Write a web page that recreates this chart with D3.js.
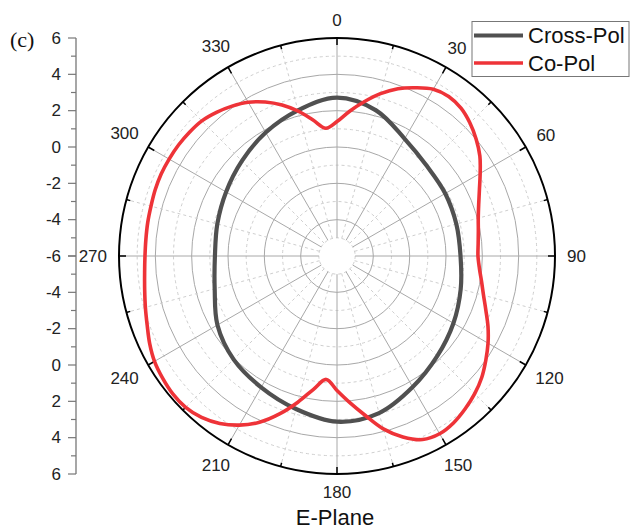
<!DOCTYPE html>
<html>
<head>
<meta charset="utf-8">
<script src="https://cdn.jsdelivr.net/npm/d3@7"></script>
<style>
  html, body { margin: 0; padding: 0; background: #fff; }
  svg { display: block; }
</style>
</head>
<body>
<svg id="chart" width="631" height="531"></svg>
<script>
// Sampled angles (degrees, clockwise from top) and gains for both polarisations
const angles = d3.range(0, 360, 5);
const crossPolAngles = d3.range(0, 360, 15);
const crossPol = [2.72, 2.3, 1.45, 1.0, 0.88, 0.8, 0.8, 1.05, 1.4, 1.8, 2.33, 2.95,
                  3.12, 2.72, 2.35, 2.05, 1.6, 0.97, 0.72, 0.82, 1.05, 1.4, 1.85, 2.3];
const coPol = [1.40, 2.0, 2.62, 3.25, 3.8, 4.22, 4.6, 4.72, 4.62, 4.35, 4.0, 3.6,
               3.1, 2.65, 2.3, 2.05, 1.9, 1.8, 1.76, 1.87, 2.08, 2.35, 2.72, 3.17,
               3.6, 4.0, 4.4, 4.72, 4.98, 5.2, 5.3, 5.15, 4.6, 3.85, 2.9, 2.1,
               1.4, 0.82, 1.45, 2.33, 3.25, 4.1, 4.75, 5.25, 5.6, 5.78, 5.8, 5.72,
               5.6, 5.38, 5.12, 4.92, 4.75, 4.63, 4.57, 4.56, 4.58, 4.6, 4.65, 4.68,
               4.67, 4.65, 4.6, 4.52, 4.32, 4.07, 3.77, 3.35, 2.84, 2.25, 1.6, 1.06];
const radialTicks = [-6, -4, -2, 0, 2, 4, 6];
const angleTicks = d3.range(0, 360, 30);
const seriesNames = ["Cross-Pol", "Co-Pol"];
const seriesColors = ["#505050", "#ee3338"];

const svg = d3.select("#chart");
const cx = 337, cy = 256, R = 218;
const font = "'Liberation Sans', Arial, sans-serif";

const r = d3.scaleLinear().domain([-6, 6]).range([0, R]);
const toRad = d => d * Math.PI / 180;
const g = svg.append("g").attr("transform", `translate(${cx},${cy})`);

// Grid circles: solid on even values, dashed on odd values
d3.range(-5, 6).forEach(v => {
  const even = v % 2 === 0;
  g.append("circle").attr("r", r(v)).attr("fill", "none")
    .attr("stroke", even ? "#a8a8a8" : "#cfcfcf")
    .attr("stroke-width", 1)
    .attr("stroke-dasharray", even ? null : "3,3");
});

// Spokes: solid every 30 degrees, dashed in between
d3.range(0, 360, 15).forEach(a => {
  const major = a % 30 === 0;
  const t = toRad(a);
  g.append("line")
    .attr("x1", r(-5) * Math.sin(t)).attr("y1", -r(-5) * Math.cos(t))
    .attr("x2", R * Math.sin(t)).attr("y2", -R * Math.cos(t))
    .attr("stroke", major ? "#a8a8a8" : "#cfcfcf")
    .attr("stroke-width", 1)
    .attr("stroke-dasharray", major ? null : "3,3");
});

// Outer frame circle with inward ticks
g.append("circle").attr("r", R).attr("fill", "none").attr("stroke", "#000").attr("stroke-width", 2);
d3.range(0, 360, 15).forEach(a => {
  const len = a % 30 === 0 ? 7 : 4;
  const t = toRad(a);
  g.append("line")
    .attr("x1", R * Math.sin(t)).attr("y1", -R * Math.cos(t))
    .attr("x2", (R - len) * Math.sin(t)).attr("y2", -(R - len) * Math.cos(t))
    .attr("stroke", "#000").attr("stroke-width", 1.5);
});

// Angle labels, pushed out so their box keeps a constant gap from the frame
g.selectAll("text.ang").data(angleTicks).enter().append("text")
  .attr("class", "ang")
  .attr("text-anchor", "middle").attr("dominant-baseline", "central")
  .attr("font-family", font).attr("font-size", 17).attr("fill", "#222")
  .text(d => d)
  .each(function (d) {
    const t = toRad(d);
    const hw = this.getComputedTextLength() / 2, hh = 6;
    const rl = R + 12 + Math.abs(Math.sin(t)) * hw + Math.abs(Math.cos(t)) * hh;
    d3.select(this).attr("x", rl * Math.sin(t)).attr("y", -rl * Math.cos(t));
  });

// Pattern curves
const line = d3.lineRadial()
  .angle(d => toRad(d[0]))
  .radius(d => r(d[1]))
  .curve(d3.curveCatmullRomClosed.alpha(0.5));

g.append("path").datum(crossPolAngles.map((a, i) => [a, crossPol[i]]))
  .attr("d", line).attr("fill", "none")
  .attr("stroke", seriesColors[0]).attr("stroke-width", 4.2);
g.append("path").datum(angles.map((a, i) => [a, coPol[i]]))
  .attr("d", line).attr("fill", "none")
  .attr("stroke", seriesColors[1]).attr("stroke-width", 3.6);

// Radial axis on the left: upper half and lower half mirror the radius
const axisX = 76;
const yUp = d3.scaleLinear().domain([-6, 6]).range([cy, cy - R]);
const yDown = d3.scaleLinear().domain([-6, 6]).range([cy, cy + R]);
const ax = svg.append("g");
ax.append("line").attr("x1", axisX).attr("x2", axisX)
  .attr("y1", yUp(6)).attr("y2", yDown(6))
  .attr("stroke", "#777").attr("stroke-width", 1.3);
[yUp, yDown].forEach((sc, k) => {
  d3.range(-6, 7, 1).forEach(v => {
    const major = v % 2 === 0;
    ax.append("line").attr("x1", axisX - (major ? 8 : 5)).attr("x2", axisX)
      .attr("y1", sc(v)).attr("y2", sc(v))
      .attr("stroke", "#777").attr("stroke-width", 1.2);
  });
  radialTicks.filter(v => k === 0 || v !== -6).forEach(v => {
    ax.append("text").attr("x", 61).attr("y", sc(v))
      .attr("text-anchor", "end").attr("dominant-baseline", "central")
      .attr("font-family", font).attr("font-size", 17).attr("fill", "#222")
      .text(v);
  });
});

// Panel tag
svg.append("text").attr("x", 10).attr("y", 47)
  .attr("font-family", "'Liberation Serif', 'Times New Roman', serif")
  .attr("font-size", 22).attr("fill", "#111").text("(c)");

// Title below the plot
svg.append("text").attr("x", 335).attr("y", 525)
  .attr("text-anchor", "middle")
  .attr("font-family", font).attr("font-size", 22).attr("fill", "#111")
  .text("E-Plane");

// Legend
const lg = svg.append("g");
lg.append("rect").attr("x", 472).attr("y", 21.5).attr("width", 157).attr("height", 55)
  .attr("fill", "#fff").attr("stroke", "#777").attr("stroke-width", 1);
seriesNames.forEach((name, i) => {
  const y = 35.5 + i * 27.5;
  lg.append("line").attr("x1", 474).attr("x2", 523).attr("y1", y).attr("y2", y)
    .attr("stroke", seriesColors[i]).attr("stroke-width", i === 0 ? 4.2 : 3.6);
  lg.append("text").attr("x", 528).attr("y", y).attr("dominant-baseline", "central")
    .attr("font-family", font).attr("font-size", 22).attr("fill", "#111")
    .text(name);
});
</script>
</body>
</html>
